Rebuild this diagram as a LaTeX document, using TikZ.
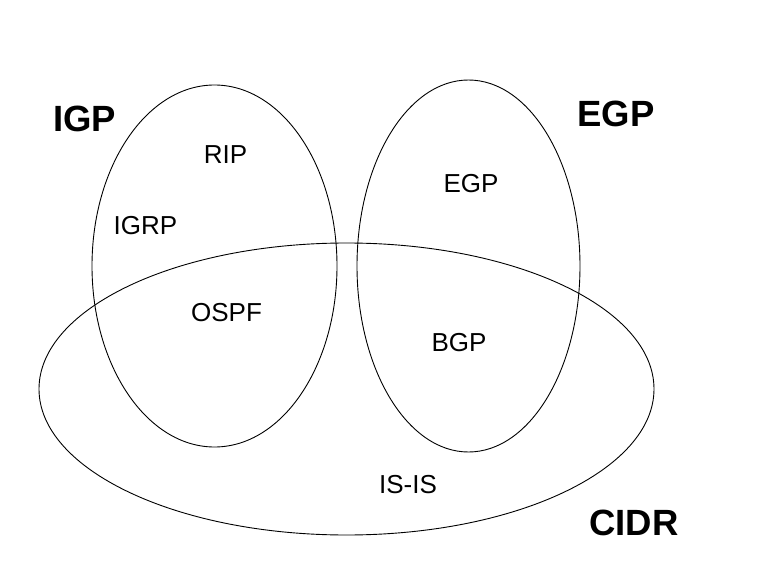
\documentclass[tikz,border=0pt]{standalone}
\usepackage{fontspec}
\setmainfont{Liberation Sans}
\begin{document}
\begin{tikzpicture}[x=1pt,y=-1pt,
  set/.style={draw=black,line width=0.9pt},
  lbl/.style={font=\fontsize{26}{30}\selectfont,inner sep=0pt},
  title/.style={font=\fontsize{36.5}{42}\selectfont\bfseries,inner sep=0pt}]
\useasboundingbox (0,0) rectangle (760,572);
\draw[set] (214.5,266) ellipse [x radius=122.5, y radius=181];
\draw[set] (468.5,266) ellipse [x radius=111.5, y radius=186];
\draw[set] (346.5,389) ellipse [x radius=307.5, y radius=146];
\node[title] (igp) at (84.5,119) {IGP};
\node[title] (egpt) at (616,114) {EGP};
\node[title] (cidr) at (634,523) {CIDR};
\node[lbl] (rip) at (225.5,155) {RIP};
\node[lbl] (igrp) at (145.5,226) {IGRP};
\node[lbl] (ospf) at (226.5,313) {OSPF};
\node[lbl] (egp) at (471,184) {EGP};
\node[lbl] (bgp) at (459,343) {BGP};
\node[lbl] (isis) at (408,485) {IS-IS};
\end{tikzpicture}
\end{document}
